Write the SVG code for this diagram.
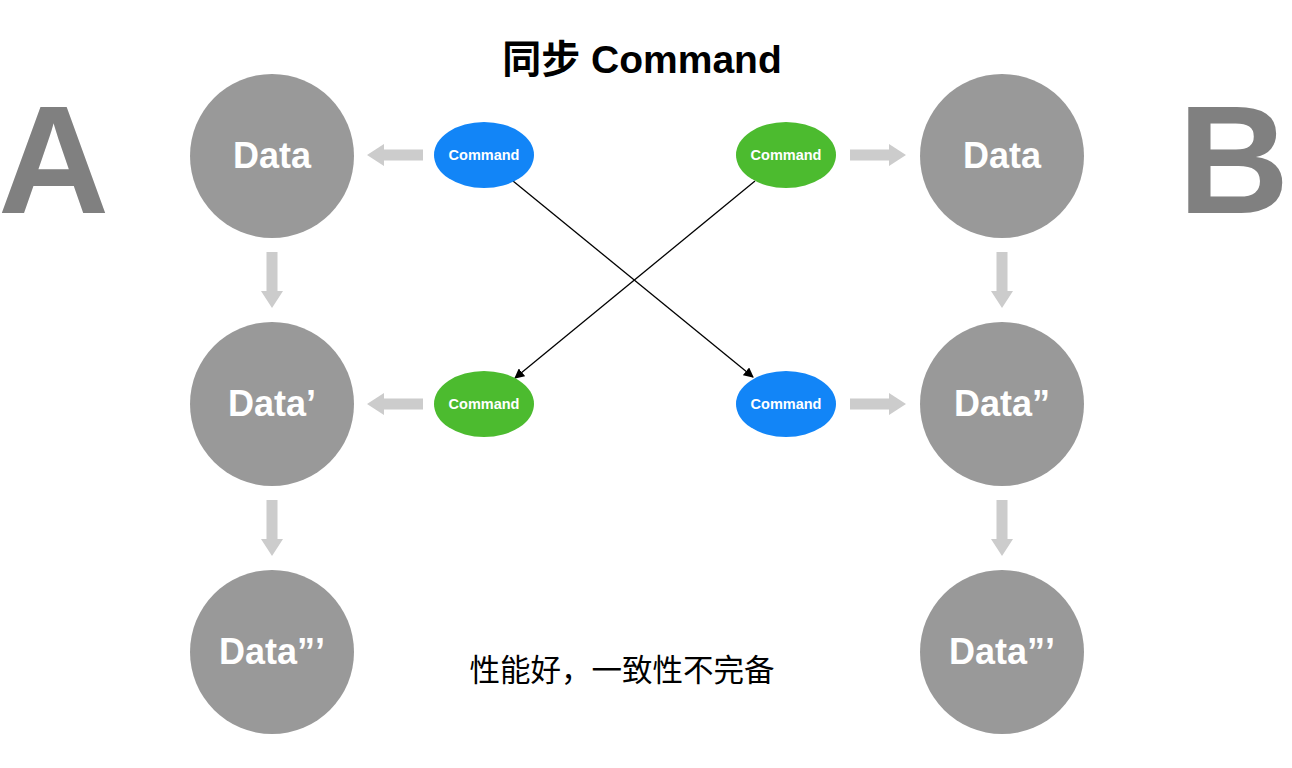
<svg xmlns="http://www.w3.org/2000/svg" width="1292" height="768" viewBox="0 0 1292 768">
<style>
.data{fill:#999999}
.dt{fill:#ffffff;font-family:"Liberation Sans",Arial,sans-serif;font-size:36px;font-weight:bold;text-anchor:middle}
.ct{fill:#ffffff;font-family:"Liberation Sans",Arial,sans-serif;font-size:14.5px;font-weight:bold;text-anchor:middle}
.blue{fill:#1285f7}
.green{fill:#4cbb2f}
.ga{fill:#cccccc}
.big{fill:#808080;font-family:"Liberation Sans",Arial,sans-serif;font-size:154px;font-weight:bold}
</style>
<defs>
<marker id="ah" viewBox="0 0 10 10" refX="9" refY="5" markerWidth="10" markerHeight="10" markerUnits="userSpaceOnUse" orient="auto"><path d="M0,0 L10,5 L0,10 z" fill="#000"/></marker>
<path id="arrR" d="M0,-5.5 L39,-5.5 L39,-11 L56,0 L39,11 L39,5.5 L0,5.5 z"/>
</defs>
<rect width="1292" height="768" fill="#ffffff"/>
<text x="642" y="73" text-anchor="middle" font-family="'Liberation Sans','Noto Sans CJK SC',sans-serif" font-size="39" font-weight="bold" fill="#000">同步 Command</text>
<text class="big" x="-2" y="213">A</text>
<text class="big" x="1178" y="213">B</text>
<g id="connectors">
<use href="#arrR" class="ga" transform="translate(423,155) rotate(180)"/>
<use href="#arrR" class="ga" transform="translate(423,404) rotate(180)"/>
<use href="#arrR" class="ga" transform="translate(850,155)"/>
<use href="#arrR" class="ga" transform="translate(850,404)"/>
<use href="#arrR" class="ga" transform="translate(272,252) rotate(90)"/>
<use href="#arrR" class="ga" transform="translate(272,500) rotate(90)"/>
<use href="#arrR" class="ga" transform="translate(1002,252) rotate(90)"/>
<use href="#arrR" class="ga" transform="translate(1002,500) rotate(90)"/>
<line x1="513" y1="181" x2="753" y2="377" stroke="#000" stroke-width="1.3" marker-end="url(#ah)"/>
<line x1="755" y1="181" x2="515" y2="378" stroke="#000" stroke-width="1.3" marker-end="url(#ah)"/>
</g>
<g id="a1"><circle class="data" cx="272" cy="156" r="82"/><text class="dt" x="272" y="168">Data</text></g>
<g id="a2"><circle class="data" cx="272" cy="404" r="82"/><text class="dt" x="272" y="416">Data’</text></g>
<g id="a3"><circle class="data" cx="272" cy="652" r="82"/><text class="dt" x="272" y="664">Data”’</text></g>
<g id="b1"><circle class="data" cx="1002" cy="156" r="82"/><text class="dt" x="1002" y="168">Data</text></g>
<g id="b2"><circle class="data" cx="1002" cy="404" r="82"/><text class="dt" x="1002" y="416">Data”</text></g>
<g id="b3"><circle class="data" cx="1002" cy="652" r="82"/><text class="dt" x="1002" y="664">Data”’</text></g>
<g id="cmdA1"><ellipse class="blue" cx="484" cy="155" rx="50" ry="33"/><text class="ct" x="484" y="160">Command</text></g>
<g id="cmdB1"><ellipse class="green" cx="786" cy="155" rx="50" ry="33"/><text class="ct" x="786" y="160">Command</text></g>
<g id="cmdA2"><ellipse class="green" cx="484" cy="404" rx="50" ry="33"/><text class="ct" x="484" y="409">Command</text></g>
<g id="cmdB2"><ellipse class="blue" cx="786" cy="404" rx="50" ry="33"/><text class="ct" x="786" y="409">Command</text></g>
<text x="622" y="681" text-anchor="middle" font-family="'Noto Sans CJK SC',sans-serif" font-size="30.5" fill="#000">性能好，一致性不完备</text>
</svg>
